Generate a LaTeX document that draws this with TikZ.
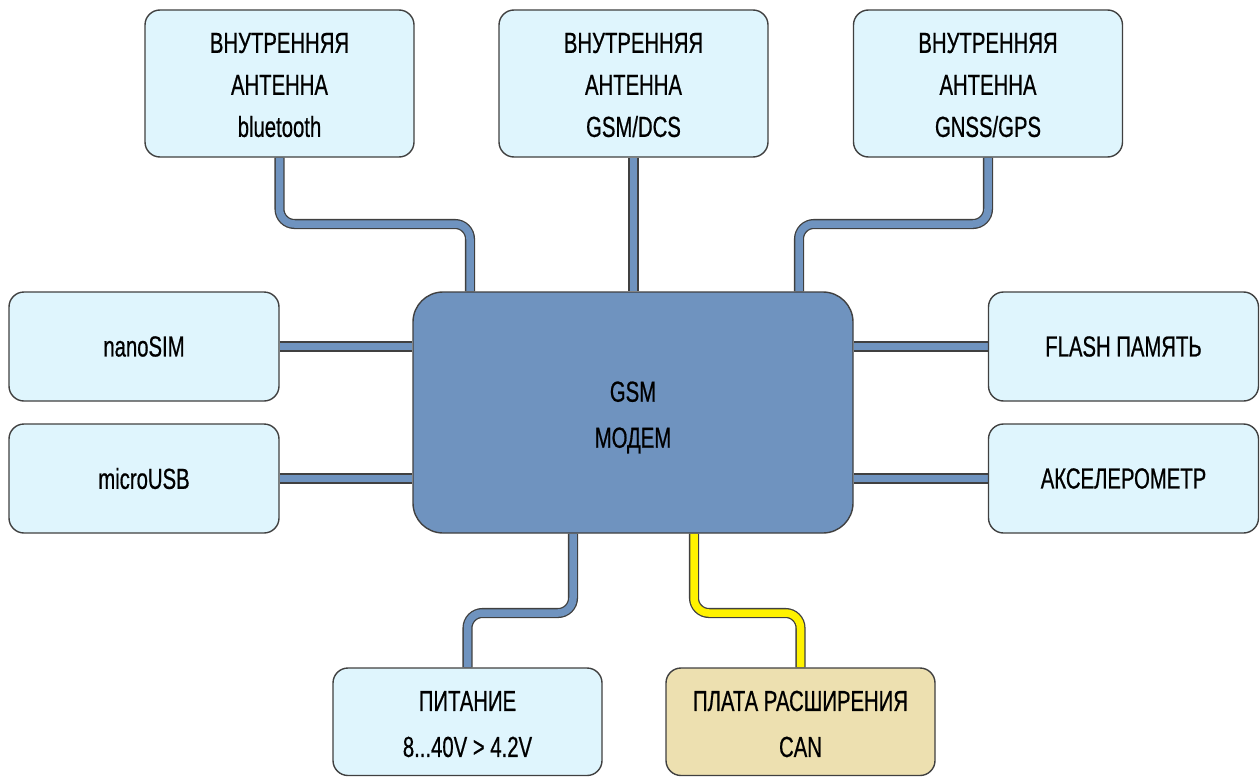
\documentclass[tikz,border=0pt]{standalone}
\usepackage{fontspec}
\setmainfont[FakeStretch=0.7,FakeBold=0.6]{Liberation Sans}
\usetikzlibrary{backgrounds}
\definecolor{boxfill}{HTML}{DFF5FD}
\definecolor{boxline}{HTML}{404040}
\definecolor{modem}{HTML}{6F93BF}
\definecolor{canfill}{HTML}{EDE0B0}
\definecolor{yel}{HTML}{FFF200}
\newcommand\lowtext[1]{\raisebox{-3pt}[\height][\depth]{\begin{tabular}{@{}c@{}}#1\end{tabular}}}
\tikzset{
  blk/.style={draw=boxline, line width=1.4pt, fill=boxfill, rounded corners=15pt,
    inner sep=0pt, align=center, font=\fontsize{29}{46}\selectfont, text=black},
  topblk/.style={blk, minimum width=269pt, minimum height=147pt, font=\fontsize{29}{42}\selectfont},
  sideblk/.style={blk, minimum width=270pt, minimum height=109pt},
  botblk/.style={blk, minimum width=269pt, minimum height=107.5pt},
  conn/.style={draw=boxline, line width=1.3pt, double=modem, double distance=7.5pt, rounded corners=15pt},
  yconn/.style={conn, double=yel},
}
\begin{document}
\begin{tikzpicture}[x=1pt,y=-1pt]
\useasboundingbox (0,0) rectangle (1260,776);
\node[topblk] (bt) at (279.5,83.5) {\lowtext{ВНУТРЕННЯЯ\\АНТЕННА\\bluetooth}};
\node[topblk] (dcs) at (633.5,83.5) {\lowtext{ВНУТРЕННЯЯ\\АНТЕННА\\GSM/DCS}};
\node[topblk] (gps) at (988,83.5) {\lowtext{ВНУТРЕННЯЯ\\АНТЕННА\\GNSS/GPS}};
\node[sideblk] (sim) at (144,346.5) {nanoSIM};
\node[sideblk] (usb) at (144,478.5) {microUSB};
\node[sideblk] (flash) at (1123.5,346.5) {FLASH ПАМЯТЬ};
\node[sideblk] (acc) at (1123.5,478.5) {АКСЕЛЕРОМЕТР};
\node[blk, fill=modem, rounded corners=30pt, minimum width=440pt, minimum height=241pt] (gsm) at (633,412.5) {\lowtext{GSM\\МОДЕМ}};
\node[botblk] (pwr) at (467.5,721.75) {\lowtext{ПИТАНИЕ\\8...40V > 4.2V}};
\node[botblk, fill=canfill] (can) at (800.5,721.75) {\lowtext{ПЛАТА РАСШИРЕНИЯ\\CAN}};
\coordinate (c1) at (470,224);
\coordinate (c3) at (799,224);
\coordinate (c4) at (573,613);
\coordinate (c5) at (694,613);
\begin{scope}[on background layer]
\draw[conn] (bt.south) |- (c1) -- (c1 |- gsm.north);
\draw[conn] (dcs.south) -- (dcs.south |- gsm.north);
\draw[conn] (gps.south) |- (c3) -- (c3 |- gsm.north);
\draw[conn] (sim.east) -- (sim.east -| gsm.west);
\draw[conn] (usb.east) -- (usb.east -| gsm.west);
\draw[conn] (flash.west) -- (flash.west -| gsm.east);
\draw[conn] (acc.west) -- (acc.west -| gsm.east);
\draw[conn] (c4 |- gsm.south) -- (c4) -| (pwr.north);
\draw[yconn] (c5 |- gsm.south) -- (c5) -| (can.north);
\end{scope}
\end{tikzpicture}
\end{document}
